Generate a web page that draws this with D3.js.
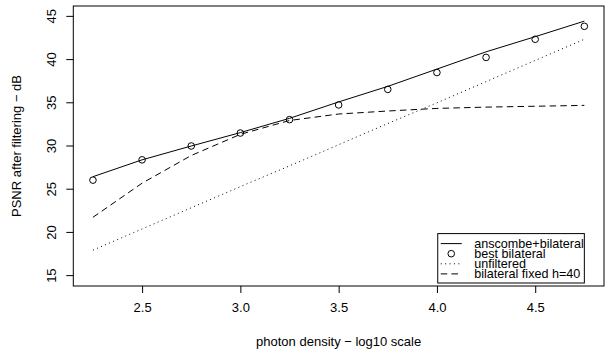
<!DOCTYPE html>
<html lang="en">
<head>
<meta charset="UTF-8">
<script src="https://d3js.org/d3.v7.min.js"></script>
<style>
  body { margin: 0; background: #fff; }
  svg { display: block; font-family: "Liberation Sans", Arial, sans-serif; }
  .ln { fill: none; stroke: #000; stroke-width: 1; }
</style>
</head>
<body>
<div class="chart"></div>
<script>
const density = [2.25, 2.5, 2.75, 3.0, 3.25, 3.5, 3.75, 4.0, 4.25, 4.5, 4.75]
const anscombe = [26.45, 28.4, 30.0, 31.55, 33.2, 35.1, 36.9, 38.9, 40.9, 42.65, 44.45]
const bestBilateral = [26.05, 28.4, 30.0, 31.5, 33.05, 34.75, 36.55, 38.5, 40.25, 42.35, 43.85]
const unfiltered = [17.95, 20.4, 22.85, 25.3, 27.7, 30.15, 32.6, 35.0, 37.45, 39.9, 42.35]
const fixed40 = [21.75, 25.7, 28.9, 31.35, 32.95, 33.7, 34.05, 34.35, 34.5, 34.6, 34.7]
const xTicks = [2.5, 3.0, 3.5, 4.0, 4.5]
const yTicks = [15, 20, 25, 30, 35, 40, 45]

const width = 606, height = 354
const mLeft = 73.3, mRight = 604, mTop = 6, mBottom = 286

const svg = d3.select('.chart').append('svg')
  .attr('width', width).attr('height', height)

const x = d3.scaleLinear().domain([2.15, 4.85]).range([mLeft, mRight])
const y = d3.scaleLinear().domain([13.8, 46.2]).range([mBottom, mTop])

// axes
const xAxis = svg.append('g')
  .attr('transform', `translate(0,${mBottom})`)
  .call(d3.axisBottom(x).tickValues(xTicks).tickFormat(d3.format('.1f')).tickSize(7).tickPadding(10))
xAxis.select('.domain').remove()

const yAxis = svg.append('g')
  .attr('transform', `translate(${mLeft},0)`)
  .call(d3.axisLeft(y).tickValues(yTicks).tickSize(7))
yAxis.select('.domain').remove()
yAxis.selectAll('.tick').attr('transform', null)
yAxis.selectAll('.tick line').attr('y1', d => y(d)).attr('y2', d => y(d))
yAxis.selectAll('.tick text')
  .attr('transform', d => `translate(-17.5,${y(d)}) rotate(-90)`)
  .attr('x', 0).attr('y', 0).attr('dy', null)
  .attr('text-anchor', 'middle')

svg.selectAll('.tick text').attr('font-size', 13).attr('font-family', '"Liberation Sans", Arial, sans-serif').attr('fill', '#000')
svg.selectAll('.tick line').attr('stroke', '#000')

// box
svg.append('rect')
  .attr('x', mLeft).attr('y', mTop)
  .attr('width', mRight - mLeft).attr('height', mBottom - mTop)
  .attr('fill', 'none').attr('stroke', '#000')

// titles
svg.append('text')
  .attr('x', (mLeft + mRight) / 2).attr('y', 346)
  .attr('text-anchor', 'middle').attr('font-size', 13)
  .text('photon density \u2212 log10 scale')
svg.append('text')
  .attr('transform', `translate(21,${(mTop + mBottom) / 2}) rotate(-90)`)
  .attr('text-anchor', 'middle').attr('font-size', 13)
  .text('PSNR after filtering \u2212 dB')

// series
const line = vals => d3.line().x((d, i) => x(density[i])).y(d => y(d))(vals)

svg.append('path').attr('class', 'ln').attr('d', line(anscombe))
svg.append('path').attr('class', 'ln').attr('d', line(unfiltered))
  .attr('stroke-dasharray', '1,3.4')
svg.append('path').attr('class', 'ln').attr('d', line(fixed40))
  .attr('stroke-dasharray', '6.5,4.2')

svg.selectAll('.pt')
  .data(bestBilateral)
  .enter().append('circle')
  .attr('class', 'pt')
  .attr('cx', (d, i) => x(density[i]))
  .attr('cy', d => y(d))
  .attr('r', 3.3)
  .attr('fill', 'none').attr('stroke', '#000')

// legend
const legRight = x(4.75), legBottom = 283, legW = 146.6, legH = 49.4
const legLeft = legRight - legW, legTop = legBottom - legH
svg.append('rect')
  .attr('x', legLeft).attr('y', legTop)
  .attr('width', legW).attr('height', legH)
  .attr('fill', '#fff').attr('stroke', '#000')

const legItems = [
  { label: 'anscombe+bilateral', type: 'solid' },
  { label: 'best bilateral', type: 'point' },
  { label: 'unfiltered', type: 'dotted' },
  { label: 'bilateral fixed h=40', type: 'dashed' }
]
const leg = svg.selectAll('.leg')
  .data(legItems)
  .enter().append('g')
  .attr('class', 'leg')
  .attr('transform', (d, i) => `translate(${legLeft},${legTop + 10 + i * 10.1})`)

leg.each(function (d) {
  const g = d3.select(this)
  if (d.type === 'point') {
    g.append('circle').attr('cx', 13.5).attr('cy', 0).attr('r', 3.3)
      .attr('fill', 'none').attr('stroke', '#000')
  } else {
    const l = g.append('line').attr('class', 'ln')
      .attr('x1', 3).attr('x2', 24).attr('y1', 0).attr('y2', 0)
    if (d.type === 'dotted') l.attr('stroke-dasharray', '1,3.4')
    if (d.type === 'dashed') l.attr('stroke-dasharray', '6.5,4.2')
  }
  g.append('text').attr('x', 36.5).attr('y', 4.3)
    .attr('font-size', 12.6)
    .text(d.label)
})
</script>
</body>
</html>
